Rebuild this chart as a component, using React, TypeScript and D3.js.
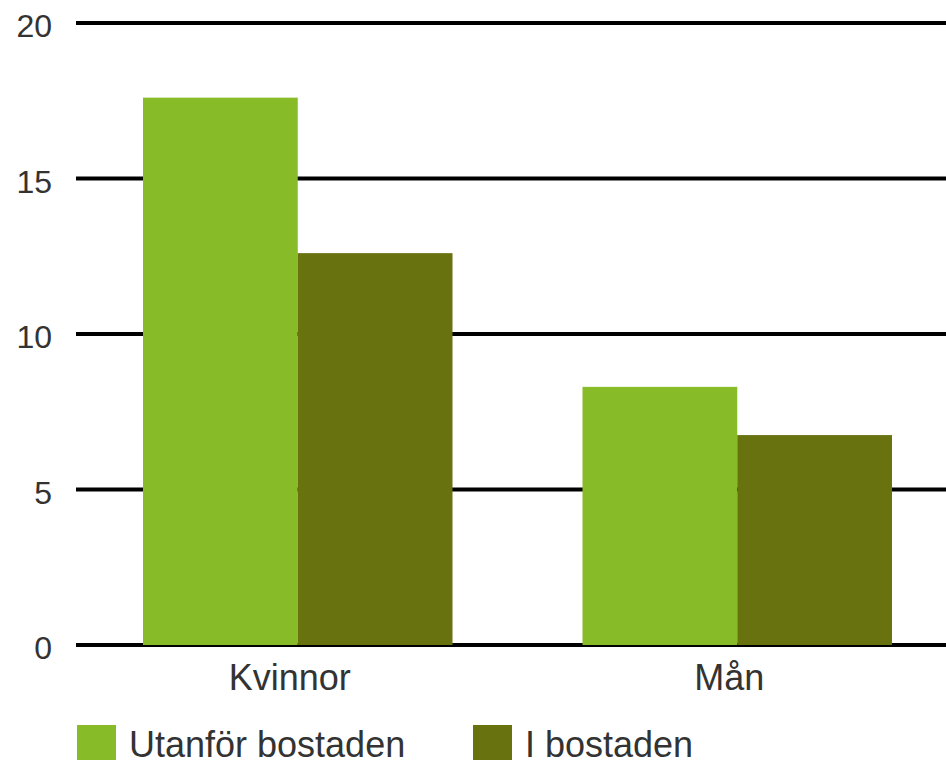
import React, { useEffect, useRef } from 'react';
import * as d3 from 'd3';

// chart data
const categories = ['Kvinnor', 'Mån'];
const seriesNames = ['Utanför bostaden', 'I bostaden'];
const utanforValues = [17.6, 8.3];
const iBostadenValues = [12.6, 6.75];
const yTicks = [0, 5, 10, 15, 20];
const colors = ['#87bb28', '#68720e'];

const W = 946;
const H = 760;

const App = () => {
  const ref = useRef<SVGSVGElement | null>(null);

  useEffect(() => {
    const svg = d3.select(ref.current);
    svg.selectAll('*').remove();

    const font = '"Liberation Sans", Arial, sans-serif';
    const values = [utanforValues, iBostadenValues];

    const y = d3.scaleLinear().domain([0, 20]).range([645, 23]);

    const x0 = d3.scaleBand().domain(categories).range([78, 957]).padding(0);
    const x1 = d3
      .scaleBand()
      .domain(seriesNames)
      .range([0, x0.bandwidth()])
      .paddingInner(0)
      .paddingOuter(0.42);

    // gridlines
    svg
      .append('g')
      .selectAll('line')
      .data(yTicks)
      .enter()
      .append('line')
      .attr('x1', 76)
      .attr('x2', W)
      .attr('y1', (d) => y(d))
      .attr('y2', (d) => y(d))
      .attr('stroke', '#000')
      .attr('stroke-width', 4);

    // y tick labels
    svg
      .append('g')
      .selectAll('text')
      .data(yTicks)
      .enter()
      .append('text')
      .text((d) => d)
      .attr('x', 52)
      .attr('y', (d) => y(d) + 14)
      .attr('text-anchor', 'end')
      .attr('font-family', font)
      .attr('font-size', 32)
      .attr('fill', '#333');

    // bars
    const groups = svg
      .append('g')
      .selectAll('g')
      .data(categories)
      .enter()
      .append('g')
      .attr('transform', (d) => `translate(${x0(d)},0)`);

    groups
      .selectAll('rect')
      .data((d, i) => seriesNames.map((s, j) => ({ s, v: values[j][i], j })))
      .enter()
      .append('rect')
      .attr('x', (d) => x1(d.s) as number)
      .attr('y', (d) => y(d.v))
      .attr('width', x1.bandwidth())
      .attr('height', (d) => y(0) - y(d.v))
      .attr('fill', (d) => colors[d.j]);

    // category labels
    svg
      .append('g')
      .selectAll('text')
      .data(categories)
      .enter()
      .append('text')
      .text((d) => d)
      .attr('x', (d) => (x0(d) as number) + x0.bandwidth() / 2 - 8)
      .attr('y', 690)
      .attr('text-anchor', 'middle')
      .attr('font-family', font)
      .attr('font-size', 36)
      .attr('fill', '#333');

    // legend
    const legendX = [77, 473];
    const legend = svg
      .append('g')
      .selectAll('g')
      .data(seriesNames)
      .enter()
      .append('g')
      .attr('transform', (d, i) => `translate(${legendX[i]},725)`);

    legend
      .append('rect')
      .attr('width', 39)
      .attr('height', 40)
      .attr('fill', (d, i) => colors[i]);

    legend
      .append('text')
      .text((d) => d)
      .attr('x', 52)
      .attr('y', 32)
      .attr('font-family', font)
      .attr('font-size', 36)
      .attr('fill', '#333');
  }, []);

  return (
    <svg
      ref={ref}
      width={W}
      height={H}
      style={{ position: 'absolute', left: 0, top: 0, background: '#fff' }}
    />
  );
};

export default App;
